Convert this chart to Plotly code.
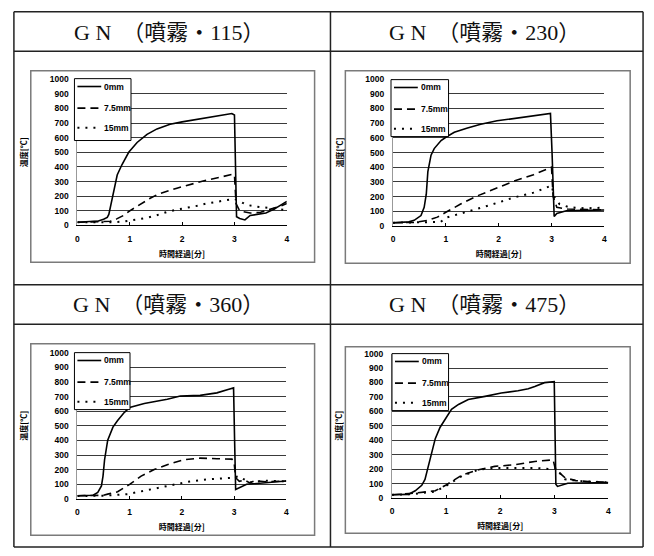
import plotly.graph_objects as go

# ---------------- data ----------------
panel_titles = ["G N\u00a0 （噴霧・115）", "G N\u00a0 （噴霧・230）", "G N\u00a0 （噴霧・360）", "G N\u00a0 （噴霧・475）"]
series_names = ["0mm", "7.5mm", "15mm"]
x_ticks = [0, 1, 2, 3, 4]
x_title = "時間経過[分]"
y_title = "温度[℃]"

# GN 115
t_115_0 = [0, 0.2, 0.4, 0.5, 0.57, 0.6, 0.63, 0.67, 0.7, 0.76, 0.85, 0.98, 1.14, 1.33, 1.52, 1.77, 2.0, 2.2, 2.47, 2.7, 2.85, 2.95, 3.0, 3.02, 3.04, 3.1, 3.2, 3.3, 3.45, 3.6, 3.75, 3.9, 4.0]
v_115_0 = [22, 24, 30, 42, 55, 75, 130, 200, 255, 345, 415, 500, 567, 623, 660, 692, 708, 720, 738, 752, 760, 765, 755, 400, 60, 48, 38, 68, 75, 85, 110, 145, 165]
t_115_75 = [0, 0.3, 0.5, 0.63, 0.75, 0.89, 1.0, 1.2, 1.39, 1.55, 1.71, 1.9, 2.03, 2.25, 2.47, 2.7, 2.97, 3.0, 3.03, 3.1, 3.3, 3.5, 3.7, 3.9, 4.0]
v_115_75 = [22, 24, 25, 29, 45, 70, 100, 145, 186, 215, 235, 255, 268, 290, 310, 328, 350, 345, 150, 100, 85, 90, 110, 135, 150]
t_115_15 = [0, 0.4, 0.7, 0.9, 1.1, 1.33, 1.5, 1.71, 1.9, 2.09, 2.3, 2.47, 2.7, 2.91, 3.0, 3.1, 3.23, 3.4, 3.54, 3.7, 3.86, 4.0]
v_115_15 = [22, 22, 22, 28, 38, 52, 68, 92, 108, 119, 135, 150, 165, 175, 182, 165, 141, 130, 123, 118, 110, 105]

# GN 230
t_230_0 = [0, 0.2, 0.3, 0.4, 0.53, 0.59, 0.63, 0.66, 0.72, 0.78, 0.91, 1.0, 1.16, 1.41, 1.66, 1.97, 2.28, 2.66, 2.94, 2.98, 3.01, 3.05, 3.1, 3.28, 3.6, 4.0]
v_230_0 = [22, 25, 28, 38, 71, 127, 216, 371, 482, 527, 582, 604, 638, 667, 693, 716, 731, 749, 764, 766, 500, 65, 85, 104, 106, 109]
t_230_75 = [0, 0.4, 0.66, 0.84, 1.0, 1.28, 1.59, 1.9, 2.28, 2.66, 2.96, 3.0, 3.03, 3.1, 3.3, 3.6, 4.0]
v_230_75 = [22, 24, 38, 60, 93, 149, 204, 249, 304, 349, 398, 400, 200, 127, 115, 112, 110]
t_230_15 = [0, 0.5, 0.9, 1.0, 1.28, 1.59, 1.9, 2.28, 2.66, 2.94, 3.0, 3.06, 3.15, 3.34, 3.66, 4.0]
v_230_15 = [22, 22, 27, 56, 82, 116, 149, 193, 227, 264, 275, 193, 149, 127, 120, 125]

# GN 360
t_360_0 = [0, 0.3, 0.39, 0.46, 0.49, 0.52, 0.58, 0.68, 0.77, 0.9, 1.0, 1.28, 1.72, 1.97, 2.35, 2.67, 2.9, 2.99, 3.01, 3.03, 3.24, 3.62, 4.0]
v_360_0 = [22, 25, 45, 89, 156, 268, 402, 491, 536, 592, 625, 652, 681, 703, 708, 725, 750, 759, 400, 65, 100, 112, 123]
t_360_75 = [0, 0.5, 0.58, 0.77, 1.0, 1.22, 1.47, 1.72, 2.04, 2.35, 2.67, 2.96, 3.0, 3.03, 3.1, 3.2, 3.3, 3.4, 3.6, 4.0]
v_360_75 = [22, 25, 33, 49, 100, 156, 201, 234, 268, 279, 275, 272, 250, 145, 120, 130, 110, 125, 118, 123]
t_360_15 = [0, 0.5, 0.96, 1.28, 1.72, 2.1, 2.48, 2.86, 2.99, 3.08, 3.3, 3.6, 4.0]
v_360_15 = [20, 22, 33, 56, 89, 116, 134, 145, 145, 156, 112, 125, 120]

# GN 475
t_475_0 = [0, 0.3, 0.43, 0.55, 0.61, 0.67, 0.74, 0.8, 0.89, 0.98, 1.1, 1.23, 1.41, 1.72, 2.02, 2.33, 2.52, 2.64, 2.82, 3.0, 3.01, 3.03, 3.06, 3.25, 4.0]
v_475_0 = [22, 25, 50, 88, 129, 219, 332, 411, 490, 546, 614, 648, 682, 704, 727, 743, 756, 772, 799, 806, 450, 95, 80, 102, 106]
t_475_75 = [0, 0.43, 0.8, 1.0, 1.29, 1.6, 1.9, 2.27, 2.64, 2.98, 3.02, 3.1, 3.2, 3.4, 3.7, 4.0]
v_475_75 = [22, 34, 50, 90, 158, 196, 219, 230, 253, 264, 200, 175, 140, 120, 112, 110]
t_475_15 = [0, 0.4, 0.8, 1.0, 1.29, 1.6, 1.9, 2.27, 2.64, 2.94, 3.04, 3.1, 3.2, 3.5, 4.0]
v_475_15 = [22, 27, 45, 84, 151, 196, 208, 208, 208, 200, 208, 174, 129, 117, 108]

panel_data = [
    [(t_115_0, v_115_0), (t_115_75, v_115_75), (t_115_15, v_115_15)],
    [(t_230_0, v_230_0), (t_230_75, v_230_75), (t_230_15, v_230_15)],
    [(t_360_0, v_360_0), (t_360_75, v_360_75), (t_360_15, v_360_15)],
    [(t_475_0, v_475_0), (t_475_75, v_475_75), (t_475_15, v_475_15)],
]

# ---------------- layout helpers ----------------
W, H = 654, 556
def px(x):
    return x / W
def py(y):
    return 1 - y / H

# plot areas: (x pixel at 0, x pixel at 4, y pixel at 0, y pixel at 1000)
plot_boxes = [(76, 287, 224.5, 75.5), (394, 607, 225, 75.5), (76, 286.5, 503, 354), (393, 611, 502, 355)]
frames = [(29, 67, 315, 262), (346, 67, 633, 263), (29, 345, 315, 540), (346, 348, 633, 538)]
header_centers = [(168, 28), (486, 28), (168, 305), (486, 305)]
legend_boxes = [(73, 75, 130, 138), (392, 76, 450, 134), (73, 354, 129, 412), (393, 355, 450, 413)]
legend_offsets = [8, 30, 50]

styles = [
    dict(color="black", width=1.6, dash="solid"),
    dict(color="black", width=1.6, dash="8px,5px"),
    dict(color="black", width=2.0, dash="2px,6px"),
]

fig = go.Figure()
tick_font = dict(family="Liberation Sans, Noto Sans CJK JP", size=8.5, color="black", weight="bold")
title_font = dict(family="Noto Sans CJK JP", size=8, color="black", weight="bold")

for i in range(4):
    k = "" if i == 0 else str(i + 1)
    for j, (t, v) in enumerate(panel_data[i]):
        fig.add_trace(go.Scatter(
            x=t, y=v, mode="lines", name=series_names[j], line=styles[j],
            xaxis="x" + k, yaxis="y" + k, showlegend=False,
        ))
    x0, x4, y0, y1000 = plot_boxes[i]
    fig.layout["xaxis" + k] = dict(
        domain=[px(x0), px(x4)], range=[0, 4], tickvals=x_ticks, anchor="y" + k,
        showgrid=False, zeroline=False, showline=True, linecolor="black", linewidth=1.2,
        ticks="inside", ticklen=3, tickcolor="black", tickfont=tick_font,
        ticklabelstandoff=5,
        title=dict(text=x_title, font=title_font, standoff=8),
    )
    fig.layout["yaxis" + k] = dict(
        domain=[py(y0), py(y1000)], range=[0, 1000], dtick=100, anchor="x" + k,
        showgrid=True, gridcolor="#3a3a3a", gridwidth=1.2, zeroline=False,
        showline=True, linecolor="#999", linewidth=1, ticks="",
        tickfont=tick_font, ticklabelstandoff=6,
        title=dict(text=y_title, font=title_font, standoff=20),
    )
    # frame around each chart
    fl, ft, fr, fb = frames[i]
    fig.add_shape(type="rect", xref="paper", yref="paper",
                  x0=px(fl), x1=px(fr), y0=py(fb), y1=py(ft),
                  line=dict(color="#7a7a7a", width=1.5))
    # legend box (drawn on top of the plot, as in the original)
    ll, lt, lr, lb = legend_boxes[i]
    fig.add_shape(type="rect", xref="paper", yref="paper",
                  x0=px(ll), x1=px(lr), y0=py(lb), y1=py(lt),
                  line=dict(color="black", width=1), fillcolor="white", layer="above")
    for j in range(3):
        yy = lt + legend_offsets[j]
        fig.add_shape(type="line", xref="paper", yref="paper",
                      x0=px(ll + 3), x1=px(ll + 27), y0=py(yy), y1=py(yy),
                      line=styles[j], layer="above")
        fig.add_annotation(x=px(ll + 28), y=py(yy), xref="paper", yref="paper", showarrow=False,
                           text=series_names[j], xanchor="left", yanchor="middle",
                           font=dict(family="Liberation Sans", size=8.5, color="black", weight="bold"))
    hx, hy = header_centers[i]
    fig.add_annotation(x=px(hx), y=py(hy), xref="paper", yref="paper", showarrow=False,
                       text=panel_titles[i], xanchor="center", yanchor="middle",
                       font=dict(family="Liberation Serif, Noto Sans CJK JP", size=22, color="#111"))

# table grid lines
table_lines = [
    (12, 7, 646, 7), (12, 47, 646, 47), (12, 285, 646, 285), (12, 325, 646, 325), (12, 552, 646, 552),
    (12, 7, 12, 552), (331, 7, 331, 552), (646, 7, 646, 552),
]
for (a, b, c, d) in table_lines:
    fig.add_shape(type="line", xref="paper", yref="paper",
                  x0=px(a), y0=py(b), x1=px(c), y1=py(d),
                  line=dict(color="#222", width=1.5))

fig.update_layout(
    width=W, height=H, margin=dict(l=0, r=0, t=0, b=0),
    paper_bgcolor="white", plot_bgcolor="white",
)

fig.write_html("out.html", config={"displayModeBar": False},
               post_script="document.body.style.margin='0';")
